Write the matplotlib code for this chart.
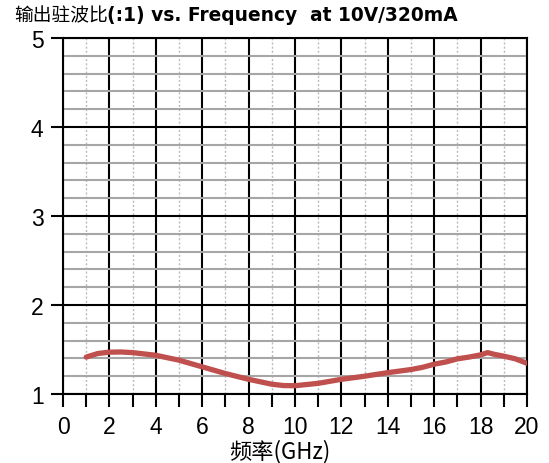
import numpy as np
import matplotlib.pyplot as plt
from matplotlib.ticker import MultipleLocator

# 读图数据 values
freq = [1.0, 1.5, 2.0, 2.5, 3.0, 4.0, 5.0, 6.0, 7.0, 8.0, 9.0, 9.5, 10.0, 11.0,
        12.0, 13.0, 14.0, 15.0, 15.5, 16.0, 16.5, 17.0, 17.5, 18.0, 18.3, 18.6,
        19.0, 19.5, 20.0]
vswr = [1.415, 1.455, 1.47, 1.472, 1.465, 1.435, 1.38, 1.305, 1.23, 1.165, 1.11,
        1.095, 1.093, 1.12, 1.165, 1.2, 1.24, 1.275, 1.3, 1.335, 1.36, 1.395,
        1.415, 1.44, 1.465, 1.445, 1.425, 1.395, 1.345]

title_cn = "输出驻波比"
title_en = "(:1) vs. Frequency  at 10V/320mA"

fig = plt.figure(figsize=(5.49, 4.64), dpi=100)
ax = fig.add_axes([0.1148, 0.1487, 0.8452, 0.7673])

ax.plot(freq, vswr, color="#C0504D", lw=3.8, solid_capstyle="round", zorder=5)

ax.set_xlim(0, 20)
ax.set_ylim(1, 5)
ax.xaxis.set_major_locator(MultipleLocator(2))
ax.xaxis.set_minor_locator(MultipleLocator(1))
ax.yaxis.set_major_locator(MultipleLocator(1))
ax.yaxis.set_minor_locator(MultipleLocator(0.2))

#网格 grid
ax.grid(which="major", color="black", lw=1.5)
ax.grid(which="minor", axis="y", color="#a6a6a6", lw=1.5)
ax.grid(which="minor", axis="x", color="#bbbbbb", lw=1.0, linestyle=(0, (1.5, 1.5)))
ax.set_axisbelow(True)

for s in ax.spines.values():
    s.set_color("black")
    s.set_linewidth(1.5)

ax.tick_params(which="both", direction="out", color="black", width=1.5)
ax.tick_params(axis="x", which="both", length=9, pad=6)
ax.tick_params(axis="y", which="major", length=9, pad=5)
ax.tick_params(axis="y", which="minor", length=0)
for lab in ax.get_xticklabels() + ax.get_yticklabels():
    lab.set_fontfamily(["Liberation Sans", "DejaVu Sans"])
    lab.set_fontsize(16.5)

# 标题 title
t1 = fig.text(0.025, 0.955, title_cn, fontsize=13.5, family=["Noto Sans CJK SC"],
              va="baseline")
fig.canvas.draw()
bb = t1.get_window_extent()
fig.text(bb.x1 / fig.bbox.width, 0.955, title_en, fontsize=13.4,
         fontweight="bold", family=["DejaVu Sans"], va="baseline")

# x轴标签 x label
fig.text(0.51, 0.012, "频率(GHz)", fontsize=16, ha="center",
         family=["Noto Sans CJK SC", "Liberation Sans"])

fig.savefig("out.png", dpi=100)
